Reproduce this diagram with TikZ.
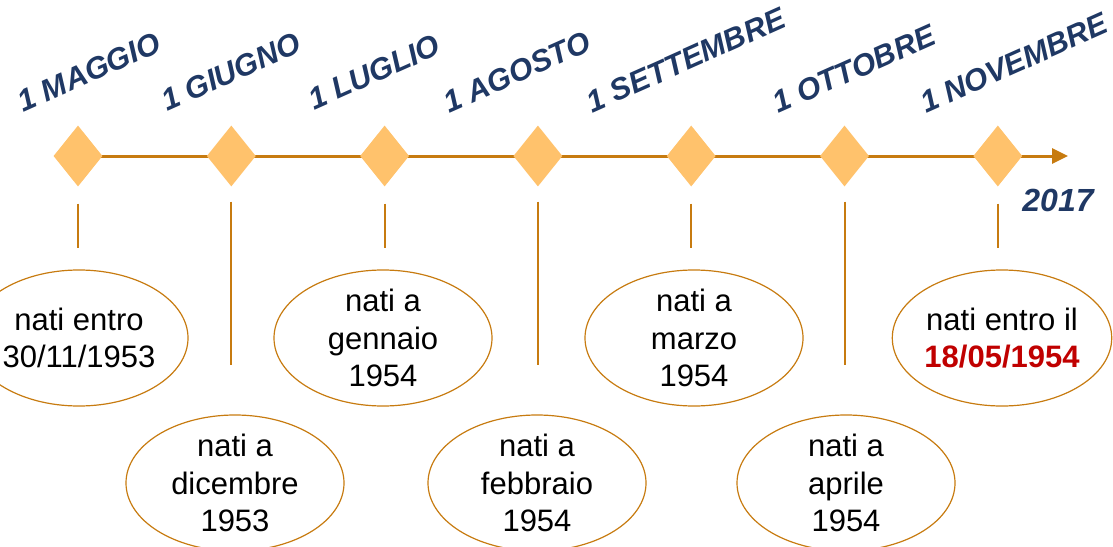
\documentclass[tikz,border=0pt]{standalone}
\usepackage{fontspec}
\setmainfont{Liberation Sans}
\usetikzlibrary{shapes.geometric,arrows.meta}
\definecolor{lineorange}{RGB}{199,123,16}
\definecolor{diamondorange}{RGB}{255,194,108}
\definecolor{monthblue}{RGB}{31,56,100}
\definecolor{datered}{RGB}{192,0,0}
\newcommand{\mymonthfont}{\fontsize{30.5}{37}\selectfont\bfseries\itshape}
\newcommand{\mybubblefont}{\fontsize{31}{37.5}\selectfont}
\tikzset{
	marker/.style={diamond, fill=diamondorange, draw=none, inner sep=0pt, minimum width=49pt, minimum height=61pt},
	bubble/.style={ellipse, draw=lineorange, line width=1.2pt, inner sep=0pt, inner ysep=-8pt, minimum width=218pt, minimum height=136pt, align=center, font=\mybubblefont},
	monthlabel/.style={rotate=24, inner sep=0pt, text=monthblue, font=\mymonthfont},
	stem/.style={draw=lineorange, line width=2pt},
	timeline/.style={draw=lineorange, line width=3pt, -{Triangle[length=16pt,width=15pt]}}
}
\begin{document}
\begin{tikzpicture}[x=10pt,y=10pt]
		\useasboundingbox (0,0) rectangle (111.3,-54.6);
		%Points on the time line
		\foreach \i in {0,...,6} {
			\coordinate (t\i) at (7.8+15.33*\i,-15.6);
		}
		\coordinate (end) at (106.8,-15.6);
		%The arrow
		\draw [timeline] (t0) -- (end);
		%Diamonds
		\foreach \i in {0,...,6} {
			\node [marker] (d\i) at (t\i) {};
		}
		%Months, written at an angle
		\node [monthlabel] (m0) at (8.9,-7.2) {1 MAGGIO};
		\node [monthlabel] (m1) at (23.1,-7.2) {1 GIUGNO};
		\node [monthlabel] (m2) at (37.4,-7.2) {1 LUGLIO};
		\node [monthlabel] (m3) at (51.7,-7.2) {1 AGOSTO};
		\node [monthlabel] (m4) at (68.6,-6.0) {1 SETTEMBRE};
		\node [monthlabel] (m5) at (85.4,-6.9) {1 OTTOBRE};
		\node [monthlabel] (m6) at (101.4,-6.3) {1 NOVEMBRE};
		%Year
		\node [monthlabel, rotate=-24, font=\fontsize{32}{38}\selectfont\bfseries\itshape] (year) at (105.8,-20.0) {2017};
		%Upper ellipses
		\node [bubble] (e0) at (7.9,-33.8) {nati entro\\30/11/1953};
		\node [bubble] (e2) at (38.3,-33.8) {nati a\\gennaio\\1954};
		\node [bubble] (e4) at (69.4,-33.8) {nati a\\marzo\\1954};
		\node [bubble] (e6) at (100.2,-33.8) {nati entro il\\{\bfseries\color{datered}18/05/1954}};
		%Lower ellipses
		\node [bubble] (e1) at (23.5,-48.3) {nati a\\dicembre\\1953};
		\node [bubble] (e3) at (53.7,-48.3) {nati a\\febbraio\\1954};
		\node [bubble] (e5) at (84.6,-48.3) {nati a\\aprile\\1954};
		%Short stems
		\foreach \i in {0,2,4,6} {
			\draw [stem, shorten <=17pt, shorten >=21pt] (d\i.south) -- (d\i.south |- e\i.north);
		}
		%Long stems
		\foreach \i in {1,3,5} {
			\draw [stem, shorten <=15pt, shorten >=49pt] (d\i.south) -- (d\i.south |- e\i.north);
		}
\end{tikzpicture}
\end{document}
